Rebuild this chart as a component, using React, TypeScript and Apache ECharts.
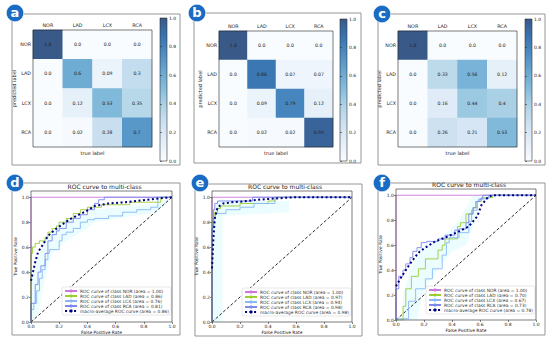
import React, { useEffect, useRef } from 'react';
import * as echarts from 'echarts';

const FONT = 'DejaVu Sans';
const CLASSES = ['NOR', 'LAD', 'LCX', 'RCA'];

// confusion matrices: rows = predicted label, cols = true label
const CM_A = [
  [1.0, 0.0, 0.0, 0.0],
  [0.0, 0.6, 0.09, 0.3],
  [0.0, 0.12, 0.53, 0.35],
  [0.0, 0.02, 0.28, 0.7],
];
const CM_B = [
  [1.0, 0.0, 0.0, 0.0],
  [0.0, 0.86, 0.07, 0.07],
  [0.0, 0.09, 0.79, 0.12],
  [0.0, 0.02, 0.02, 0.95],
];
const CM_C = [
  [1.0, 0.0, 0.0, 0.0],
  [0.0, 0.33, 0.56, 0.12],
  [0.0, 0.16, 0.44, 0.4],
  [0.0, 0.26, 0.21, 0.53],
];

// Blues colormap (slightly washed)
const BLUES = ['#f9fcff', '#e5eff9', '#d1e2f2', '#b1d5e7', '#89bede', '#68a8d1', '#4d8dc4', '#3974b0', '#395989'];

// ROC curves, panel d
const D_NOR = [[0, 0], [0, 1], [1, 1]];
const D_LAD = [[0, 0], [0, 0.15], [0.01, 0.55], [0.03, 0.6], [0.06, 0.63], [0.1, 0.65], [0.12, 0.68], [0.15, 0.72], [0.18, 0.75], [0.2, 0.77], [0.25, 0.8], [0.3, 0.83], [0.35, 0.87], [0.4, 0.9], [0.5, 0.92], [0.7, 0.94], [0.92, 0.96], [1, 1]];
const D_LCX = [[0, 0], [0.02, 0.1], [0.04, 0.15], [0.06, 0.25], [0.08, 0.35], [0.1, 0.42], [0.12, 0.5], [0.13, 0.55], [0.2, 0.58], [0.22, 0.65], [0.25, 0.7], [0.3, 0.72], [0.35, 0.75], [0.4, 0.8], [0.45, 0.82], [0.55, 0.83], [0.65, 0.85], [0.75, 0.88], [0.85, 0.9], [0.9, 0.92], [1, 1]];
const D_RCA = [[0, 0], [0.03, 0.15], [0.05, 0.3], [0.07, 0.4], [0.1, 0.45], [0.12, 0.55], [0.15, 0.65], [0.18, 0.7], [0.2, 0.73], [0.25, 0.75], [0.3, 0.8], [0.35, 0.83], [0.4, 0.86], [0.45, 0.9], [0.48, 0.95], [0.52, 0.98], [0.55, 1.0], [1, 1]];
const D_MACRO = [[0, 0.33], [0.01, 0.38], [0.03, 0.48], [0.05, 0.56], [0.09, 0.63], [0.12, 0.69], [0.17, 0.74], [0.22, 0.78], [0.27, 0.82], [0.34, 0.86], [0.41, 0.9], [0.45, 0.93], [0.55, 0.95], [0.67, 0.96], [0.79, 0.975], [0.9, 0.99], [1, 1]];
const D_BAND = [[0, 0], [0.05, 0.05], [0.1, 0.35], [0.15, 0.55], [0.25, 0.65], [0.4, 0.75], [0.45, 0.8], [0.9, 0.88], [1, 1], [0.9, 0.95], [0.45, 0.9], [0.35, 0.85], [0.2, 0.8], [0.1, 0.65], [0.02, 0.45], [0, 0.3]];

// panel e
const E_NOR = [[0, 0], [0, 1], [1, 1]];
const E_LAD = [[0, 0], [0.005, 0.7], [0.01, 0.78], [0.02, 0.83], [0.04, 0.88], [0.06, 0.91], [0.08, 0.93], [0.2, 0.93], [0.2, 0.95], [0.4, 0.95], [0.45, 0.97], [0.46, 1.0], [1, 1]];
const E_LCX = [[0, 0], [0.005, 0.6], [0.015, 0.78], [0.025, 0.83], [0.04, 0.87], [0.1, 0.87], [0.1, 0.9], [0.2, 0.9], [0.2, 0.92], [0.3, 0.92], [0.35, 0.95], [0.45, 0.95], [0.46, 1.0], [1, 1]];
const E_RCA = [[0, 0], [0, 0.5], [0.01, 0.75], [0.02, 0.9], [0.04, 0.95], [0.07, 0.97], [0.29, 0.97], [0.29, 1.0], [1, 1]];
const E_MACRO = [[0, 0.43], [0.01, 0.67], [0.02, 0.83], [0.04, 0.92], [0.08, 0.95], [0.14, 0.96], [0.21, 0.965], [0.33, 0.98], [0.45, 0.99], [0.59, 1.0], [1, 1]];
const E_BAND = [[0, 0], [0.075, 0], [0.075, 0.85], [0.55, 0.88], [0.55, 0.97], [0.05, 0.97], [0, 0.9]];

// panel f
const F_NOR = [[0, 0], [0, 1], [1, 1]];
const F_LAD = [[0, 0], [0.05, 0], [0.07, 0.11], [0.11, 0.25], [0.16, 0.35], [0.21, 0.41], [0.3, 0.49], [0.33, 0.56], [0.35, 0.6], [0.44, 0.65], [0.46, 0.75], [0.5, 0.78], [0.55, 0.85], [0.58, 0.9], [0.61, 0.95], [0.69, 0.98], [0.71, 1.0], [1, 1]];
const F_LCX = [[0, 0], [0.09, 0.01], [0.14, 0.15], [0.21, 0.25], [0.26, 0.33], [0.33, 0.41], [0.36, 0.52], [0.38, 0.62], [0.45, 0.66], [0.52, 0.7], [0.54, 0.79], [0.58, 0.88], [0.59, 0.95], [0.66, 0.97], [0.71, 1.0], [1, 1]];
const F_RCA = [[0, 0], [0, 0.2], [0.02, 0.25], [0.05, 0.35], [0.07, 0.4], [0.1, 0.45], [0.12, 0.5], [0.15, 0.55], [0.18, 0.58], [0.22, 0.62], [0.3, 0.63], [0.35, 0.65], [0.42, 0.68], [0.45, 0.72], [0.5, 0.73], [0.52, 0.78], [0.55, 0.85], [0.57, 0.9], [0.6, 0.95], [0.62, 0.97], [0.65, 1.0], [1, 1]];
const F_MACRO = [[0, 0.27], [0.03, 0.33], [0.07, 0.4], [0.1, 0.45], [0.14, 0.51], [0.17, 0.55], [0.21, 0.58], [0.28, 0.63], [0.35, 0.66], [0.45, 0.71], [0.52, 0.75], [0.58, 0.83], [0.61, 0.92], [0.66, 0.99], [0.71, 1.0], [1, 1]];
const F_BAND = [[0.05, 0], [0.15, 0], [0.2, 0.25], [0.3, 0.4], [0.4, 0.55], [0.5, 0.6], [0.55, 0.75], [0.6, 0.95], [0.65, 1.0], [0.55, 1.0], [0.45, 0.8], [0.35, 0.68], [0.2, 0.6], [0.1, 0.4], [0.05, 0.2]];

const AREAS_D = ['1.00', '0.86', '0.76', '0.81', '0.86'];
const AREAS_E = ['1.00', '0.97', '0.94', '0.98', '0.98'];
const AREAS_F = ['1.00', '0.70', '0.67', '0.73', '0.78'];

const CLASS_COLORS = ['#cc77dd', '#9acd32', '#87b8f5', '#7b88ee'];
const MACRO_COLOR = '#000080';

const HEAT_GRIDS = [
  { left: 33, top: 30, width: 119, height: 117 },
  { left: 219, top: 31, width: 114, height: 116 },
  { left: 398, top: 31, width: 119, height: 116 },
];
const CBAR_GRIDS = [
  { left: 160, top: 18, width: 7, height: 143 },
  { left: 340, top: 19, width: 7, height: 142 },
  { left: 525, top: 19, width: 7, height: 142 },
];
const ROC_GRIDS = [
  { left: 31, top: 191, width: 141, height: 131 },
  { left: 212, top: 191, width: 140, height: 131 },
  { left: 396, top: 189, width: 140, height: 131 },
];
const PANELS = [
  { x: 12, y: 14, w: 168, h: 151 },
  { x: 194, y: 13, w: 167, h: 150 },
  { x: 378, y: 14, w: 167, h: 151 },
  { x: 12, y: 183, w: 168, h: 152 },
  { x: 195, y: 184, w: 167, h: 152 },
  { x: 378, y: 183, w: 167, h: 152 },
];
const LETTERS = ['a', 'b', 'c', 'd', 'e', 'f'];
const LETTER_POS = [[15, 13], [197, 13], [382, 14], [15, 183], [200, 183], [382, 183]];
const LEGEND_POS = [{ right: 379, top: 287 }, { right: 199, top: 288 }, { right: 15, top: 286 }];

function fmt(v: number) {
  return Number.isInteger(v) ? v.toFixed(1) : String(v);
}

function buildOption() {
  const grids: any[] = [];
  const xAxes: any[] = [];
  const yAxes: any[] = [];
  const series: any[] = [];
  const legends: any[] = [];
  const graphics: any[] = [];
  const tickStyle = { color: '#222', fontSize: 4.8, fontFamily: FONT };

  const mats = [CM_A, CM_B, CM_C];
  HEAT_GRIDS.forEach((g, i) => {
    grids.push({ ...g, containLabel: false });
    xAxes.push({
      type: 'category', data: CLASSES, gridIndex: i, position: 'top',
      axisLine: { show: false }, splitLine: { show: false },
      axisTick: { alignWithLabel: true, length: 2, lineStyle: { color: '#333', width: 0.6 } },
      axisLabel: { ...tickStyle, margin: 2 },
    });
    xAxes.push({
      type: 'category', data: CLASSES, gridIndex: i, position: 'bottom',
      axisLine: { show: false }, splitLine: { show: false },
      axisTick: { alignWithLabel: true, length: 2, lineStyle: { color: '#333', width: 0.6 } },
      axisLabel: { show: false },
      name: 'true label', nameLocation: 'middle', nameGap: 3,
      nameTextStyle: { color: '#222', fontSize: 5, fontFamily: FONT },
    });
    yAxes.push({
      type: 'category', data: CLASSES, gridIndex: i, inverse: true,
      axisLine: { show: false }, splitLine: { show: false },
      axisTick: { alignWithLabel: true, length: 2, lineStyle: { color: '#333', width: 0.6 } },
      axisLabel: { ...tickStyle, margin: 2 },
      name: 'predicted label', nameLocation: 'middle', nameGap: 14,
      nameTextStyle: { color: '#222', fontSize: 5, fontFamily: FONT },
    });
    const data: any[] = [];
    mats[i].forEach((row, r) => row.forEach((v, c) => data.push([c, r, v])));
    series.push({
      type: 'heatmap', xAxisIndex: i * 2, yAxisIndex: i, data,
      label: {
        show: true, formatter: (p: any) => fmt(p.value[2]),
        color: '#222', fontSize: 4.6, fontFamily: FONT,
      },
      itemStyle: { borderWidth: 0 },
      emphasis: { disabled: true },
    });
    graphics.push({
      type: 'rect', z: 100, silent: true,
      shape: { x: g.left, y: g.top, width: g.width, height: g.height },
      style: { fill: 'none', stroke: '#222', lineWidth: 0.6 },
    });
  });

  const stops = BLUES.map((c, k) => ({ offset: k / (BLUES.length - 1), color: BLUES[BLUES.length - 1 - k] }));
  CBAR_GRIDS.forEach((g, i) => {
    const gi = 3 + i;
    grids.push({
      ...g, show: true, borderColor: '#333', borderWidth: 0.6,
      backgroundColor: new echarts.graphic.LinearGradient(0, 0, 0, 1, stops),
    });
    xAxes.push({ type: 'value', gridIndex: gi, show: false, min: 0, max: 1 });
    yAxes.push({
      type: 'value', gridIndex: gi, position: 'right', min: 0, max: 1, interval: 0.2,
      axisLine: { show: false }, splitLine: { show: false },
      axisTick: { show: true, length: 2, lineStyle: { color: '#333', width: 0.6 } },
      axisLabel: { color: '#222', fontSize: 4.5, fontFamily: FONT, margin: 2, formatter: (v: number) => v.toFixed(1) },
    });
    series.push({ type: 'scatter', xAxisIndex: 6 + i, yAxisIndex: gi, data: [], silent: true });
  });

  const rocSets = [
    { curves: [D_NOR, D_LAD, D_LCX, D_RCA], macro: D_MACRO, band: D_BAND, areas: AREAS_D },
    { curves: [E_NOR, E_LAD, E_LCX, E_RCA], macro: E_MACRO, band: E_BAND, areas: AREAS_E },
    { curves: [F_NOR, F_LAD, F_LCX, F_RCA], macro: F_MACRO, band: F_BAND, areas: AREAS_F },
  ];
  ROC_GRIDS.forEach((g, i) => {
    const gi = 6 + i;
    const xi = 9 + i;
    const yi = 6 + i;
    grids.push({ ...g });
    const axisTick = { show: true, length: 2, lineStyle: { color: '#333', width: 0.6 } };
    xAxes.push({
      type: 'value', gridIndex: gi, min: 0, max: 1, interval: 0.2,
      axisLine: { show: false }, splitLine: { show: false }, axisTick,
      axisLabel: { color: '#222', fontSize: 4.5, fontFamily: FONT, margin: 2, formatter: (v: number) => v.toFixed(1) },
      name: 'False Positive Rate', nameLocation: 'middle', nameGap: 8,
      nameTextStyle: { color: '#222', fontSize: 4.4, fontFamily: FONT },
    });
    yAxes.push({
      type: 'value', gridIndex: gi, min: 0, max: 1.05, interval: 0.2,
      axisLine: { show: false }, splitLine: { show: false }, axisTick,
      axisLabel: { color: '#222', fontSize: 4.5, fontFamily: FONT, margin: 2, showMaxLabel: false, formatter: (v: number) => v.toFixed(1) },
      name: 'True Positive Rate', nameLocation: 'middle', nameGap: 13,
      nameTextStyle: { color: '#222', fontSize: 4.4, fontFamily: FONT },
    });
    const set = rocSets[i];
    const band = set.band;
    series.push({
      type: 'custom', xAxisIndex: xi, yAxisIndex: yi, data: [[0, 0]], silent: true, z: 1,
      renderItem: (_p: any, api: any) => ({
        type: 'polygon',
        shape: { points: band.map((pt) => api.coord(pt)) },
        style: { fill: 'rgba(0,230,245,0.08)' },
      }),
    });
    const names: string[] = [];
    set.curves.forEach((c, k) => {
      const name = `ROC curve of class ${CLASSES[k]} (area = ${set.areas[k]})`;
      names.push(name);
      series.push({
        type: 'line', name, xAxisIndex: xi, yAxisIndex: yi, data: c, step: 'start',
        symbol: 'none', color: CLASS_COLORS[k], z: 3,
        lineStyle: { color: CLASS_COLORS[k], width: 0.9 },
      });
    });
    const mname = `macro-average ROC curve (area = ${set.areas[4]})`;
    names.push(mname);
    series.push({
      type: 'line', name: mname, xAxisIndex: xi, yAxisIndex: yi, data: set.macro,
      symbol: 'none', color: MACRO_COLOR, z: 4,
      lineStyle: { color: MACRO_COLOR, width: 2, type: [2, 2.5], cap: 'butt' },
    });
    series.push({
      type: 'line', xAxisIndex: xi, yAxisIndex: yi, data: [[0, 0], [1, 1]],
      symbol: 'none', z: 2, silent: true,
      lineStyle: { color: '#111', width: 0.9, type: [3, 2] },
    });
    legends.push({
      ...LEGEND_POS[i], orient: 'vertical', data: names, selectedMode: false,
      itemWidth: 12, itemHeight: 4, itemGap: 1, padding: [2, 2],
      backgroundColor: '#fff', borderColor: '#ccc', borderWidth: 0.5, borderRadius: 2,
      textStyle: { color: '#333', fontSize: 4.4, fontFamily: FONT, padding: [0, 0, 0, -2] },
    });
    graphics.push({
      type: 'rect', z: 100, silent: true,
      shape: { x: g.left, y: g.top, width: g.width, height: g.height },
      style: { fill: 'none', stroke: '#222', lineWidth: 0.6 },
    });
    graphics.push({
      type: 'text', z: 100, silent: true, x: g.left + g.width / 2 + 3, y: g.top - 5,
      style: { text: 'ROC curve to multi-class', fontSize: 6, fontFamily: FONT, fill: '#222', align: 'center', verticalAlign: 'middle' },
    });
  });

  PANELS.forEach((p) => {
    graphics.push({
      type: 'rect', z: 50, silent: true,
      shape: { x: p.x, y: p.y, width: p.w, height: p.h },
      style: { fill: 'none', stroke: '#8a8a8a', lineWidth: 0.9 },
    });
  });
  LETTERS.forEach((l, i) => {
    const [cx, cy] = LETTER_POS[i];
    graphics.push({
      type: 'circle', z: 110, silent: true,
      shape: { cx, cy, r: 8.7 },
      style: { fill: '#1a6bc4', stroke: '#fff', lineWidth: 0.6 },
    });
    graphics.push({
      type: 'text', z: 111, silent: true, x: cx, y: cy - 0.5,
      style: { text: l, fontSize: 13, fontWeight: 'bold', fontFamily: FONT, fill: '#fff', align: 'center', verticalAlign: 'middle' },
    });
  });

  return {
    animation: false,
    backgroundColor: '#fff',
    grid: grids,
    xAxis: xAxes,
    yAxis: yAxes,
    visualMap: {
      type: 'continuous', show: false, min: 0, max: 1, seriesIndex: [0, 1, 2],
      inRange: { color: BLUES },
    },
    legend: legends,
    series,
    graphic: graphics,
  };
}

export default function App() {
  const ref = useRef<HTMLDivElement>(null);
  useEffect(() => {
    if (!ref.current) return;
    const chart = echarts.init(ref.current, null, { renderer: 'svg' });
    chart.setOption(buildOption() as any);
    return () => chart.dispose();
  }, []);
  return (
    <div
      ref={ref}
      style={{ position: 'fixed', left: 0, top: 0, width: 550, height: 341, background: '#fff' }}
    />
  );
}
